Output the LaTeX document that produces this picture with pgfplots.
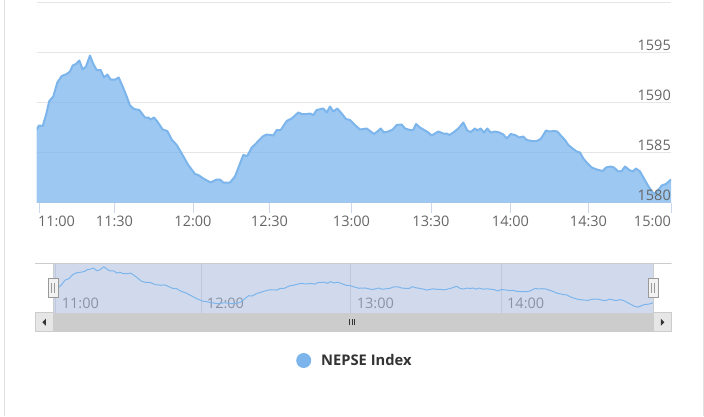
\documentclass[border=0pt]{standalone}
\usepackage{pgfplots}
\pgfplotsset{compat=1.18}
\usepackage{pgfplotstable}
\usepackage{fontspec}
\setmainfont{Open Sans}
\definecolor{nepse}{HTML}{7CB5EC}
\definecolor{gridc}{HTML}{E6E6E6}
\definecolor{axisc}{HTML}{CCD6EB}
\definecolor{labc}{HTML}{666666}
\definecolor{navlab}{HTML}{999999}
\definecolor{maskc}{RGB}{102,133,194}
\definecolor{outl}{HTML}{CCCCCC}
\definecolor{btn}{HTML}{E6E6E6}
\definecolor{hdl}{HTML}{F2F2F2}
\definecolor{hdlb}{HTML}{999999}
\definecolor{legtxt}{HTML}{333333}
\definecolor{bordc}{HTML}{E0E0E0}

% x: position along the ordinal time axis (11:00 = 39.5, 15:00 = 671), y: NEPSE Index
\pgfplotstableread{
x y
36.7 1587.3
39 1587.7
42.7 1587.65
46 1588.75
49.3 1590.15
53.3 1590.6
57.3 1592.0
61.7 1592.65
66.7 1592.85
70 1593.1
72.7 1593.7
76 1593.85
79.3 1594.2
82.7 1593.3
86 1593.6
90 1594.7
93.3 1593.85
96.7 1593.25
100.7 1593.25
104 1592.5
107.3 1592.8
110.7 1592.3
115.3 1592.3
118.7 1592.5
122.7 1591.6
126.7 1590.6
130 1589.7
134 1589.35
139.3 1589.25
145 1588.5
148.3 1588.5
150.7 1588.3
154 1588.5
157.3 1588.1
162.7 1587.3
167.3 1587.15
171.7 1586.3
176.7 1585.75
181.7 1584.9
188.3 1583.75
195 1582.85
198.3 1582.75
203.3 1582.4
210.7 1582.0
216.7 1582.3
220 1582.3
223.3 1582.0
230 1582.0
235 1582.6
240 1583.9
243.3 1584.75
247.3 1584.65
251.7 1585.5
255 1585.8
258.3 1586.15
262.7 1586.6
266.7 1586.8
270.7 1586.75
273.3 1586.7
276.7 1587.25
280.7 1587.25
286.7 1588.15
291.7 1588.4
298.3 1589.0
301.7 1588.85
306.7 1588.85
310 1588.9
313.3 1588.75
316.7 1589.25
323.3 1589.4
326.7 1589.0
330 1589.6
333.3 1589.1
337.3 1589.4
341.7 1588.9
346 1588.35
350 1588.25
355 1587.75
360 1587.3
366.7 1587.4
370 1587.15
374 1586.85
377.3 1587.1
380.7 1587.4
384 1587.0
388.3 1587.1
392.7 1587.3
396.7 1587.75
401.7 1587.8
405 1587.4
410 1587.25
413.3 1587.25
416 1587.85
420 1587.5
425 1587.2
428.3 1587.0
431.7 1586.7
435 1586.9
438.3 1587.1
443.3 1586.9
446.7 1586.9
449.3 1586.75
453.3 1587.0
458.3 1587.4
463.3 1588.0
467.3 1587.2
470.7 1587.05
475 1587.4
477.3 1587.2
480.7 1587.4
484 1587.0
487.3 1587.4
490.7 1587.0
495 1587.1
499.3 1587.0
503.3 1586.8
506.7 1586.4
510.7 1586.85
515 1586.75
519.3 1586.5
523.3 1586.6
526.7 1586.25
531.7 1586.15
536.7 1586.15
540.7 1586.35
543.3 1586.75
546 1587.2
549.3 1587.1
554 1587.15
557.3 1587.1
561.7 1586.6
565 1586.25
568.3 1585.75
572.7 1585.4
576.7 1585.1
580 1585.0
583.3 1584.4
586.7 1584.0
591.7 1583.5
596.7 1583.3
602.7 1583.15
606 1583.5
610.7 1583.6
614 1583.5
618.3 1583.1
621.7 1583.15
625 1583.6
629.3 1583.25
632.7 1583.1
636 1583.4
640 1583.1
644 1582.4
648.3 1581.65
651.7 1581.1
655 1580.85
658.3 1581.25
661.7 1581.7
666 1581.85
671 1582.3
}\nepsedata

\begin{document}
\begin{tikzpicture}[x=1pt,y=1pt]
\useasboundingbox (0,0) rectangle (704,416);
\draw[bordc, line width=1pt] (4.5,0) -- (4.5,416);
\draw[bordc, line width=1pt] (703.5,0) -- (703.5,416);

% ---------------- main chart ----------------
\begin{axis}[
  at={(36.7pt,213.5pt)}, anchor=south west,
  scale only axis, width=634.3pt, height=200pt,
  xmin=36.7, xmax=671, ymin=1580, ymax=1600,
  axis x line*=bottom, axis y line*=right,
  x axis line style={axisc, line width=1pt},
  y axis line style={draw=none},
  xtick={39.5,114.5,193,269.5,351.5,431,510.5,588.5,671},
  xticklabels={{\makebox[0pt][l]{\hspace{-1.5pt}11:00}},11:30,12:00,12:30,13:00,13:30,14:00,14:30,{\makebox[0pt][r]{15:00}}},
  xtick align=outside, major tick length=10.5pt,
  xtick style={axisc, line width=1pt},
  xticklabel style={font=\fontsize{14.5}{17}\selectfont, text=labc, anchor=base, yshift=-13pt},
  ytick={1580,1585,1590,1595,1600},
  yticklabels={},
  ytick style={draw=none},
  ymajorgrids, grid style={gridc, line width=1pt},
  legend style={at={(axis description cs:0.5,-0.79)}, anchor=center, draw=none, fill=none,
    font=\bfseries\fontsize{14.7}{17}\selectfont, text=legtxt, nodes={inner sep=0pt}},
]
\addplot[draw=none, fill=nepse, fill opacity=0.75, forget plot] table[x=x,y=y]{\nepsedata} \closedcycle;
\addplot[nepse, line width=2pt, line join=round,
  legend image code/.code={\fill[nepse, draw=none] (0pt,0pt) circle (7.5pt); \path[draw=none, fill=none] (-7.5pt,0pt) -- (17.5pt,0pt);}]
  table[x=x,y=y]{\nepsedata};
\addlegendentry{NEPSE Index}
\end{axis}

% y tick labels of the main chart, set above the area
\begin{axis}[
  at={(36.7pt,213.5pt)}, anchor=south west,
  scale only axis, width=634.3pt, height=200pt,
  xmin=36.7, xmax=671, ymin=1580, ymax=1600,
  axis line style={draw=none},
  xtick=\empty,
  ytick={1580,1585,1590,1595},
  yticklabels={1580,1585,1590,1595},
  yticklabel pos=right,
  tick style={draw=none}, major tick length=0pt,
  yticklabel style={font=\fontsize{14.5}{17}\selectfont, text=labc, anchor=base east, inner sep=0pt, yshift=2.3pt},
]
\end{axis}

% ---------------- navigator ----------------
\begin{axis}[
  at={(35pt,103.3pt)}, anchor=south west,
  scale only axis, width=636.7pt, height=49.4pt,
  xmin=17.34, xmax=690.77, ymin=1578.93, ymax=1595.86,
  axis line style={draw=none},
  tick style={draw=none}, major tick length=0pt,
  ytick=\empty,
  xtick={39.5,193,351.5,510.5},
  xticklabels={11:00,12:00,13:00,14:00},
  xmajorgrids, grid style={gridc, line width=1pt},
  xticklabel style={font=\fontsize{14.5}{17}\selectfont, text=navlab, anchor=base west, inner sep=0pt, xshift=5.7pt, yshift=4pt},
]
\fill[maskc, fill opacity=0.3] (axis cs:36.7,1578.93) rectangle (axis cs:671,1595.86);
\addplot[nepse, line width=1pt, line join=round] table[x=x,y=y]{\nepsedata};
\draw[outl, line width=1pt] (rel axis cs:0,1) -- (rel axis cs:1,1);
\draw[outl, line width=1pt] (axis cs:36.7,1578.93) -- (axis cs:36.7,1595.86);
\draw[outl, line width=1pt] (axis cs:671,1578.93) -- (axis cs:671,1595.86);
\end{axis}

% ---------------- scrollbar ----------------
\fill[outl] (53.3,84.3) rectangle (653,103.3);
\filldraw[fill=btn, draw=outl, line width=0.8pt] (35.4,84.7) rectangle (53.3,103.3);
\filldraw[fill=btn, draw=outl, line width=0.8pt] (653,84.7) rectangle (671.3,103.3);
\fill[legtxt] (42.3,93.8) -- (45.8,97.3) -- (45.8,90.3) -- cycle;
\fill[legtxt] (664.3,93.8) -- (660.8,97.3) -- (660.8,90.3) -- cycle;
\foreach \xx in {349.5,352,354.5} \draw[legtxt, line width=0.8pt] (\xx,90.8) -- (\xx,96.8);

% ---------------- handles ----------------
\foreach \hx in {53.3,653} {
  \filldraw[fill=hdl, draw=hdlb, line width=1pt] (\hx-5,119) rectangle (\hx+5,137.5);
  \draw[hdlb, line width=0.8pt] (\hx-1.5,123) -- (\hx-1.5,133.5);
  \draw[hdlb, line width=0.8pt] (\hx+1.5,123) -- (\hx+1.5,133.5);
}
\end{tikzpicture}
\end{document}
